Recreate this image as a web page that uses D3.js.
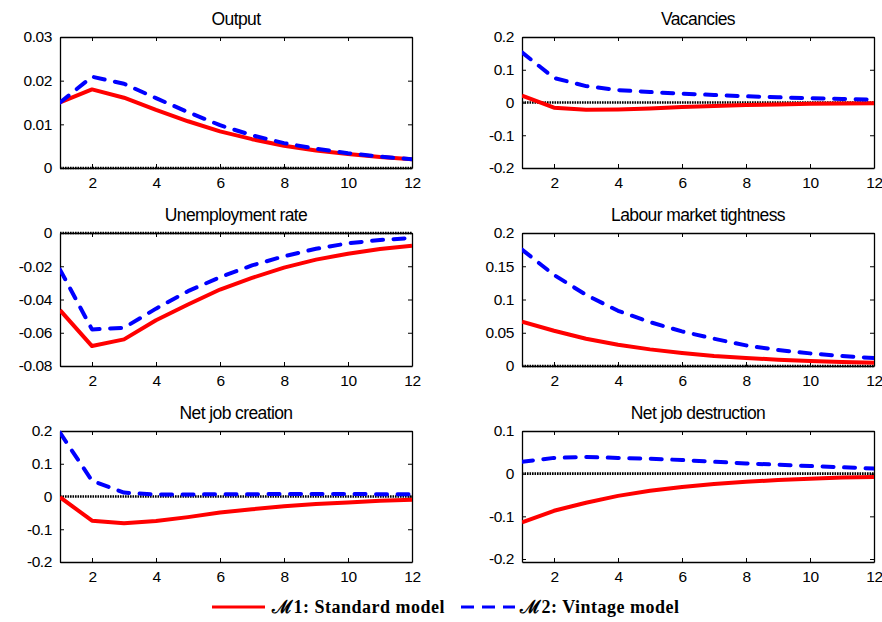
<!DOCTYPE html>
<html><head><meta charset="utf-8">
<script src="https://cdn.jsdelivr.net/npm/d3@7"></script>
<style>body{margin:0;background:#fff}svg{display:block}</style>
</head><body>
<svg id="chart" width="882" height="622"></svg>
<script>
// ---------- data ----------
const periods = [1,2,3,4,5,6,7,8,9,10,11,12];
const xTicks = [2,4,6,8,10,12];
const titles = ["Output","Vacancies","Unemployment rate","Labour market tightness","Net job creation","Net job destruction"];

const outputStd     = [0.015,0.018,0.0161,0.0133,0.0107,0.0084,0.0066,0.0051,0.0040,0.0032,0.0025,0.0020];
const outputVin     = [0.015,0.0209,0.0193,0.0160,0.0128,0.0098,0.0075,0.0057,0.0044,0.0034,0.0026,0.0020];
const vacStd        = [0.021,-0.016,-0.022,-0.021,-0.018,-0.014,-0.011,-0.008,-0.006,-0.004,-0.003,-0.002];
const vacVin        = [0.153,0.075,0.050,0.038,0.032,0.027,0.023,0.019,0.016,0.013,0.011,0.009];
const unempStd      = [-0.0464,-0.068,-0.064,-0.0525,-0.043,-0.034,-0.027,-0.0208,-0.016,-0.0125,-0.0096,-0.0077];
const unempVin      = [-0.022,-0.058,-0.057,-0.0455,-0.035,-0.0266,-0.0195,-0.014,-0.0095,-0.0062,-0.0042,-0.003];
const tightStd      = [0.0665,0.053,0.041,0.032,0.025,0.0195,0.015,0.012,0.0095,0.0075,0.006,0.005];
const tightVin      = [0.175,0.137,0.107,0.083,0.066,0.052,0.041,0.031,0.024,0.019,0.015,0.012];
const creationStd   = [-0.002,-0.074,-0.082,-0.075,-0.063,-0.049,-0.039,-0.030,-0.023,-0.018,-0.013,-0.010];
const creationVin   = [0.195,0.048,0.012,0.006,0.006,0.007,0.007,0.008,0.008,0.008,0.007,0.007];
const destructStd   = [-0.114,-0.087,-0.068,-0.052,-0.040,-0.031,-0.024,-0.019,-0.015,-0.012,-0.009,-0.008];
const destructVin   = [0.028,0.037,0.039,0.037,0.035,0.032,0.028,0.024,0.021,0.018,0.015,0.012];

const yDomains = [[0,0.03],[-0.2,0.2],[-0.08,0],[0,0.2],[-0.2,0.2],[-0.207,0.1]];
const yTickValues = [
  [0,0.01,0.02,0.03],
  [-0.2,-0.1,0,0.1,0.2],
  [-0.08,-0.06,-0.04,-0.02,0],
  [0,0.05,0.1,0.15,0.2],
  [-0.2,-0.1,0,0.1,0.2],
  [-0.2,-0.1,0,0.1]
];
const yTickLabels = [
  ["0","0.01","0.02","0.03"],
  ["-0.2","-0.1","0","0.1","0.2"],
  ["-0.08","-0.06","-0.04","-0.02","0"],
  ["0","0.05","0.1","0.15","0.2"],
  ["-0.2","-0.1","0","0.1","0.2"],
  ["-0.2","-0.1","0","0.1"]
];
const seriesNames = ["\u21331:  Standard model","\u21332:  Vintage model"];
const standardSeries = [outputStd,vacStd,unempStd,tightStd,creationStd,destructStd];
const vintageSeries  = [outputVin,vacVin,unempVin,tightVin,creationVin,destructVin];

// ---------- layout ----------
const colX = [[60,412],[522,874]];
const rowY = [[37,168],[233,366],[431,562]];
const RED = "#ff0000", BLUE = "#0000ff";

const svg = d3.select("#chart");

titles.forEach((title,i)=>{
  const [x0,x1] = colX[i%2];
  const [y0,y1] = rowY[Math.floor(i/2)];
  const x = d3.scaleLinear().domain([1,12]).range([x0,x1]);
  const y = d3.scaleLinear().domain(yDomains[i]).range([y1,y0]);
  const g = svg.append("g");

  g.append("text").attr("x",(x0+x1)/2).attr("y",y0-12)
    .attr("text-anchor","middle")
    .style("font-family","'Liberation Sans',Arial,sans-serif")
    .style("font-size","17.5px").style("letter-spacing","-0.6px")
    .text(title);

  const xb = d3.axisBottom(x).tickValues(xTicks).tickSizeInner(-4).tickSizeOuter(0).tickPadding(9).tickFormat(d3.format("d"));
  const xt = d3.axisTop(x).tickValues(xTicks).tickSizeInner(-4).tickSizeOuter(0).tickFormat("");
  const yl = d3.axisLeft(y).tickValues(yTickValues[i]).tickSizeInner(-4).tickSizeOuter(0).tickPadding(8)
    .tickFormat((d,k)=>yTickLabels[i][k]);
  const yr = d3.axisRight(y).tickValues(yTickValues[i]).tickSizeInner(-4).tickSizeOuter(0).tickFormat("");

  const styleAxis = sel => {
    sel.selectAll("path").attr("stroke","#000").attr("stroke-width",1.3);
    sel.selectAll("line").attr("stroke","#000").attr("stroke-width",1);
    sel.selectAll("text").attr("fill","#000")
      .style("font-family","'Liberation Sans',Arial,sans-serif").style("font-size","15.5px").style("letter-spacing","-0.4px");
  };
  g.append("g").attr("transform",`translate(0,${y1})`).call(xb).call(styleAxis);
  g.append("g").attr("transform",`translate(0,${y0})`).call(xt).call(styleAxis);
  g.append("g").attr("transform",`translate(${x0},0)`).call(yl).call(styleAxis);
  g.append("g").attr("transform",`translate(${x1},0)`).call(yr).call(styleAxis);

  // dotted zero line
  const zy = y(0);
  g.append("line").attr("x1",x0).attr("x2",x1).attr("y1",zy).attr("y2",zy)
    .attr("stroke","#000").attr("stroke-width",2.6).attr("stroke-dasharray","1.6,0.9");

  const line = d3.line().x((d,k)=>x(periods[k])).y(d=>y(d));
  const clipId = "clip"+i;
  g.append("clipPath").attr("id",clipId).append("rect")
    .attr("x",x0).attr("y",y0-3).attr("width",x1-x0).attr("height",y1-y0+6);
  g.append("path").datum(standardSeries[i]).attr("d",line)
    .attr("clip-path",`url(#${clipId})`)
    .attr("fill","none").attr("stroke",RED).attr("stroke-width",4).attr("stroke-linejoin","round");
  g.append("path").datum(vintageSeries[i]).attr("d",line)
    .attr("clip-path",`url(#${clipId})`)
    .attr("fill","none").attr("stroke",BLUE).attr("stroke-width",4)
    .attr("stroke-dasharray","11,10.5").attr("stroke-linecap","round").attr("stroke-linejoin","round");
});

// ---------- legend ----------
const lg = svg.append("g");
const legendFont = sel => sel.style("font-family","'Liberation Serif','Times New Roman',serif")
  .style("font-size","18px").style("font-weight","bold").style("letter-spacing","0.5px");
lg.append("line").attr("x1",212).attr("x2",265).attr("y1",607).attr("y2",607)
  .attr("stroke",RED).attr("stroke-width",3);
lg.append("text").attr("x",272).attr("y",613).text(seriesNames[0]).call(legendFont);
lg.append("line").attr("x1",461).attr("x2",515).attr("y1",607).attr("y2",607)
  .attr("stroke",BLUE).attr("stroke-width",3).attr("stroke-dasharray","13,8");
lg.append("text").attr("x",520).attr("y",613).text(seriesNames[1]).call(legendFont);
</script>
</body></html>
